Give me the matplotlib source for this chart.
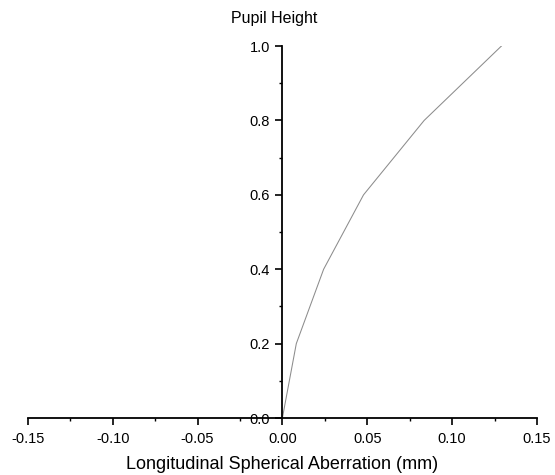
import numpy as np
from matplotlib import pyplot as plt
from matplotlib.ticker import MultipleLocator

# spherical aberration vs pupil height
pupil = [0.0, 0.2, 0.4, 0.6, 0.8, 1.0]
lsa = [0.0, 0.0082, 0.0243, 0.0478, 0.0835, 0.129]

plt.rcParams['font.family'] = ['Liberation Sans', 'DejaVu Sans']

fig = plt.figure(figsize=(5.55, 4.75), dpi=100)
ax = fig.add_axes([0.05, 0.12, 0.9176, 0.783])
ax.plot(lsa, pupil, color='#8c8c8c', linewidth=0.75)

ax.set_xlim(-0.15, 0.15)
ax.set_ylim(0, 1.0)
ax.spines['left'].set_position(('data', 0))
ax.spines['right'].set_visible(False)
ax.spines['top'].set_visible(False)
for s in ('left', 'bottom'):
  ax.spines[s].set_linewidth(1.3)

ax.xaxis.set_major_locator(MultipleLocator(0.05))
ax.xaxis.set_minor_locator(MultipleLocator(0.025))
ax.yaxis.set_major_locator(MultipleLocator(0.2))
ax.yaxis.set_minor_locator(MultipleLocator(0.1))
ax.xaxis.set_major_formatter(plt.FormatStrFormatter('%.2f'))
ax.yaxis.set_major_formatter(plt.FormatStrFormatter('%.1f'))
ax.tick_params(which='major', length=5, width=1.2, labelsize=10.5, direction='out')
ax.tick_params(which='minor', length=2.5, width=1.0, direction='out')
ax.tick_params(axis='x', pad=5)
ax.tick_params(axis='y', pad=4)

ax.set_xlabel('Longitudinal Spherical Aberration (mm)', fontsize=13, labelpad=7)
fig.text(274 / 555, 1 - 18 / 475, 'Pupil Height', ha='center', va='center', fontsize=11.5)

plt.savefig('out.png', dpi=100)
